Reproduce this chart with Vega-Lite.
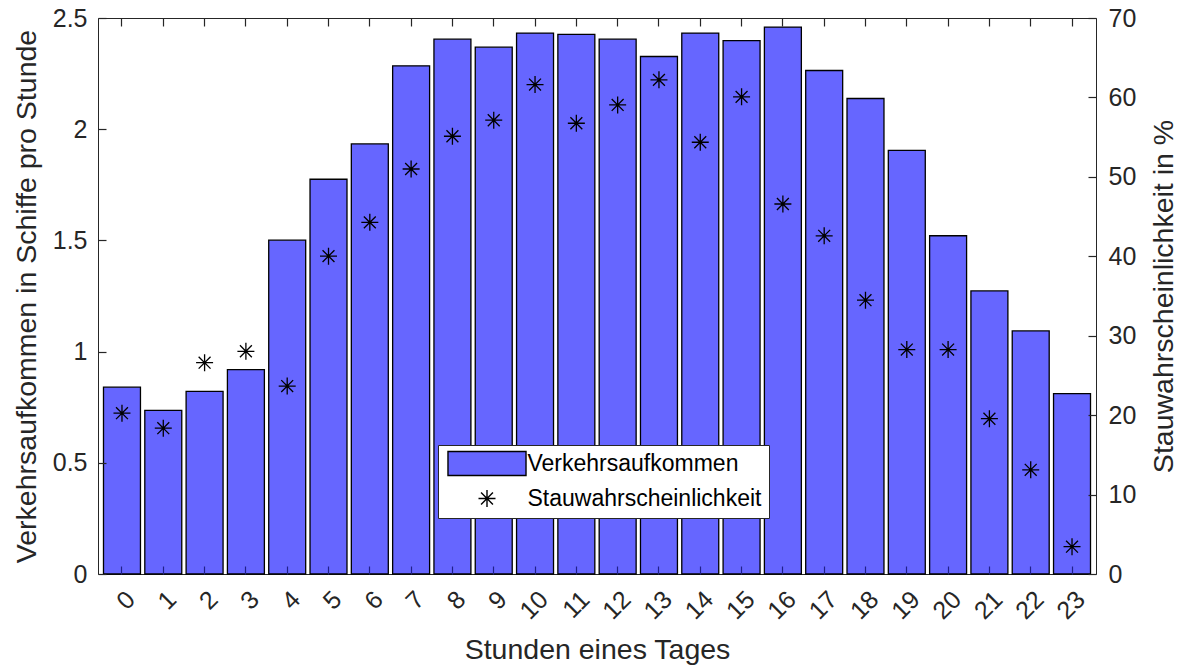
{
  "$schema": "https://vega.github.io/schema/vega-lite/v6.json",
  "width": 998,
  "height": 556,
  "autosize": {"type": "none"},
  "padding": {"left": 98, "top": 18, "right": 83, "bottom": 92},
  "background": "white",
  "config": {
    "font": "Liberation Sans",
    "view": {"stroke": "#262626", "strokeWidth": 1},
    "axis": {
      "grid": false,
      "domain": false,
      "ticks": true,
      "offset": -8,
      "tickColor": "#262626",
      "tickWidth": 1.2,
      "tickSize": 8,
      "labelColor": "#262626",
      "titleColor": "#262626",
      "labelFontSize": 25,
      "titleFontSize": 28.5,
      "titleFontWeight": "normal",
      "labelFont": "Liberation Sans",
      "titleFont": "Liberation Sans",
      "labelOverlap": false,
      "labelFlush": false
    },
    "legend": {
      "orient": "none",
      "legendX": 340,
      "legendY": 427,
      "direction": "vertical",
      "fillColor": "white",
      "strokeColor": "#262626",
      "padding": 7,
      "labelFontSize": 23,
      "labelColor": "black",
      "labelFont": "Liberation Sans",
      "labelLimit": 0,
      "labelOffset": 29,
      "symbolOffset": 30.5,
      "rowPadding": 8,
      "symbolSize": 289,
      "symbolStrokeWidth": 1.4,
      "symbolOpacity": 1,
      "zindex": 2
    }
  },
  "data": {
    "values": [
      {"hour": 0, "traffic": 0.840, "congestion": 20.25},
      {"hour": 1, "traffic": 0.736, "congestion": 18.36},
      {"hour": 2, "traffic": 0.821, "congestion": 26.61},
      {"hour": 3, "traffic": 0.919, "congestion": 28.04},
      {"hour": 4, "traffic": 1.501, "congestion": 23.66},
      {"hour": 5, "traffic": 1.775, "congestion": 40.02},
      {"hour": 6, "traffic": 1.934, "congestion": 44.27},
      {"hour": 7, "traffic": 2.285, "congestion": 50.99},
      {"hour": 8, "traffic": 2.405, "congestion": 55.11},
      {"hour": 9, "traffic": 2.369, "congestion": 57.13},
      {"hour": 10, "traffic": 2.432, "congestion": 61.62},
      {"hour": 11, "traffic": 2.426, "congestion": 56.75},
      {"hour": 12, "traffic": 2.405, "congestion": 59.06},
      {"hour": 13, "traffic": 2.327, "congestion": 62.21},
      {"hour": 14, "traffic": 2.432, "congestion": 54.36},
      {"hour": 15, "traffic": 2.398, "congestion": 60.07},
      {"hour": 16, "traffic": 2.459, "congestion": 46.58},
      {"hour": 17, "traffic": 2.264, "congestion": 42.58},
      {"hour": 18, "traffic": 2.138, "congestion": 34.47},
      {"hour": 19, "traffic": 1.905, "congestion": 28.25},
      {"hour": 20, "traffic": 1.521, "congestion": 28.25},
      {"hour": 21, "traffic": 1.273, "congestion": 19.55},
      {"hour": 22, "traffic": 1.093, "congestion": 13.12},
      {"hour": 23, "traffic": 0.811, "congestion": 3.44}
    ]
  },
  "layer": [
    {
      "mark": {"type": "bar", "stroke": "black", "strokeWidth": 1.3},
      "encoding": {
        "x": {
          "field": "hour",
          "type": "ordinal",
          "scale": {"type": "band", "paddingInner": 0.105, "paddingOuter": 0.133},
          "axis": {
            "orient": "bottom",
            "ticks": true,
            "zindex": 1,
            "tickColor": "#20208a",
            "title": "Stunden eines Tages",
            "labelAngle": -45,
            "labelAlign": "right",
            "labelBaseline": "middle",
            "labelPadding": 21,
            "labelOffset": 9,
            "titleY": 92,
            "titleBaseline": "alphabetic"
          }
        },
        "y": {
          "field": "traffic",
          "type": "quantitative",
          "scale": {"domain": [0, 2.5], "nice": false},
          "axis": {
            "orient": "left",
            "ticks": true,
            "zindex": 1,
            "values": [0, 0.5, 1, 1.5, 2, 2.5],
            "format": "~g",
            "title": "Verkehrsaufkommen in Schiffe pro Stunde",
            "labelPadding": 11,
            "titleX": -71,
            "titleAngle": -90,
            "titleBaseline": "alphabetic"
          }
        },
        "fill": {
          "datum": "Verkehrsaufkommen",
          "scale": {"domain": ["Verkehrsaufkommen", "Stauwahrscheinlichkeit"], "range": ["#6666FF", "transparent"]},
          "legend": {"title": null}
        }
      }
    },
    {
      "mark": {"type": "point", "size": 289, "filled": false, "strokeWidth": 1.3, "opacity": 1},
      "encoding": {
        "x": {
          "field": "hour",
          "type": "ordinal",
          "scale": {"type": "band", "paddingInner": 0.105, "paddingOuter": 0.133},
          "axis": {"orient": "top", "ticks": true, "zindex": 1, "labels": false, "title": null}
        },
        "y": {
          "field": "congestion",
          "type": "quantitative",
          "scale": {"domain": [0, 70], "nice": false},
          "axis": {
            "orient": "right",
            "ticks": true,
            "zindex": 1,
            "values": [0, 10, 20, 30, 40, 50, 60, 70],
            "title": "Stauwahrscheinlichkeit in %",
            "labelPadding": 12,
            "titleX": 84,
            "titleAngle": -90,
            "titleBaseline": "alphabetic"
          }
        },
        "stroke": {
          "datum": "Stauwahrscheinlichkeit",
          "scale": {"domain": ["Verkehrsaufkommen", "Stauwahrscheinlichkeit"], "range": ["black", "black"]},
          "legend": {"title": null}
        },
        "shape": {
          "datum": "Stauwahrscheinlichkeit",
          "scale": {"domain": ["Verkehrsaufkommen", "Stauwahrscheinlichkeit"], "range": ["M-4.59,-1.41H4.59V1.41H-4.59Z", "M0,-1V1M-1,0H1M-0.7,-0.7L0.7,0.7M-0.7,0.7L0.7,-0.7"]},
          "legend": {"title": null}
        }
      }
    }
  ],
  "resolve": {"scale": {"y": "independent"}, "axis": {"x": "independent"}}
}
